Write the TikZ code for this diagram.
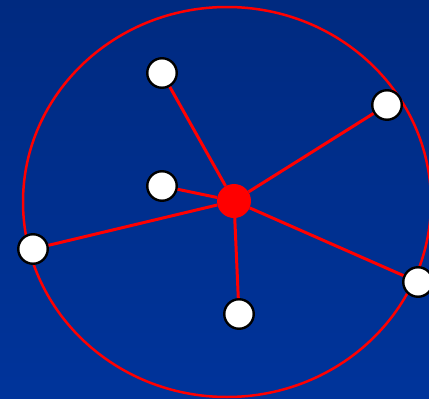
\documentclass[tikz,border=0pt]{standalone}
\definecolor{bgtop}{RGB}{0,42,128}
\definecolor{bgbottom}{RGB}{0,52,155}
\begin{document}
\begin{tikzpicture}[
  x=1pt,y=-1pt,
  hub/.style={circle,fill=red,inner sep=0pt,minimum size=34pt},
  leaf/.style={circle,draw=black,line width=2.4pt,fill=white,inner sep=0pt,minimum size=29.5pt},
  edge/.style={red,line width=3pt},
  ring/.style={red,line width=2.5pt}
]
\useasboundingbox (0,0) rectangle (429,399);
\shade[top color=bgtop,bottom color=bgbottom] (0,0) rectangle (429,399);
\draw[ring] (227,202) ellipse [x radius=204, y radius=195];

\node[hub] (hub) at (234,201) {};
\node[leaf] (top) at (162,73) {};
\node[leaf] (upright) at (387,105) {};
\node[leaf] (midleft) at (162,186) {};
\node[leaf] (left) at (33,249) {};
\node[leaf] (bottom) at (239,314) {};
\node[leaf] (right) at (418,282) {};

\foreach \n in {top,upright,midleft,left,bottom,right}
  \draw[edge] (hub) -- (\n);
\end{tikzpicture}
\end{document}
